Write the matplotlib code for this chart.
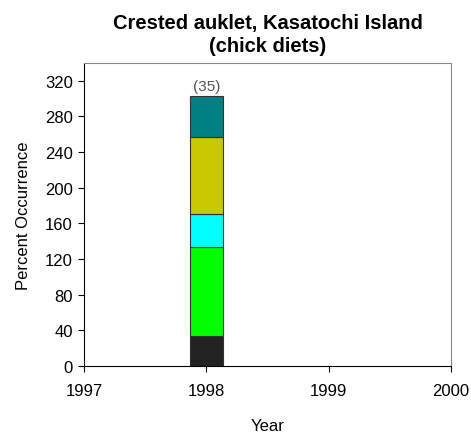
import numpy as np
import matplotlib
matplotlib.use("Agg")
import matplotlib.pyplot as plt

plt.rcParams['font.family'] = ['Liberation Sans', 'DejaVu Sans']

# data
years = [1998]
black = [34]
green = [100]
cyan = [37]
olive = [86]
teal = [46]
n_labels = ['(35)']

segments = [black, green, cyan, olive, teal]
colors = ['#222222', '#00ff00', '#00ffff', '#c8c800', '#008080']

fig = plt.figure(figsize=(4.71, 4.35), dpi=100)
ax = fig.add_axes([84 / 471, 1 - 367 / 435, 367 / 471, 303 / 435])

bottom = np.zeros(len(years))
for seg, c in zip(segments, colors):
    ax.bar(years, seg, width=0.265, bottom=bottom, color=c,
           edgecolor='#333333', linewidth=0.8)
    bottom += np.array(seg)

for x, top, lab in zip(years, bottom, n_labels):
    ax.text(x, top + 3, lab, ha='center', va='bottom', fontsize=11, color='#555555')

ax.set_xlim(1997, 2000)
ax.set_ylim(0, 340)
ax.set_xticks([1997, 1998, 1999, 2000])
ax.set_yticks(np.arange(0, 321, 40))
ax.tick_params(axis='both', direction='out', length=4, width=0.8)
ax.tick_params(axis='x', labelsize=12, pad=8)
ax.tick_params(axis='y', labelsize=12, pad=4)

ax.spines['top'].set_color('#888888')
ax.spines['right'].set_color('#888888')

ax.set_title('Crested auklet, Kasatochi Island\n(chick diets)',
             fontsize=14.5, fontweight='bold', pad=9, linespacing=1.25)
ax.set_xlabel('Year', fontsize=12, labelpad=14.5)
ax.set_ylabel('Percent Occurrence', fontsize=12, labelpad=10)

fig.savefig('out.png', dpi=100)
